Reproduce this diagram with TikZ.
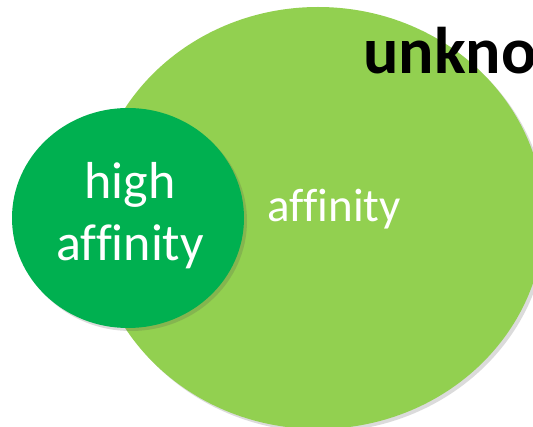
\documentclass[tikz,border=0pt]{standalone}
\usepackage{fontspec}
\setmainfont{Carlito}[Ligatures={NoCommon}]
\usetikzlibrary{shadows}
\definecolor{lightg}{HTML}{92D050}
\definecolor{darkg}{HTML}{00B050}
\tikzset{
  blob/.style={drop shadow={shadow xshift=3pt, shadow yshift=-3pt, opacity=0.2, fill=black!70}},
  wtext/.style={text=white, inner sep=0pt, anchor=base}
}
\begin{document}
\begin{tikzpicture}[x=1pt,y=-1pt]
\useasboundingbox (0,0) rectangle (533,427);
\clip (0,0) rectangle (533,427);
\fill[white] (0,0) rectangle (533,427);
\fill[lightg, blob] (318,218) ellipse [x radius=226pt, y radius=211pt];
\fill[darkg, blob] (128,218) ellipse [x radius=116pt, y radius=110pt];
\node[inner sep=0pt, anchor=base west, font=\fontsize{66}{66}\selectfont\bfseries] (unk) at (363,74) {unkno};
\node[wtext, font=\fontsize{52}{62}\selectfont] (high) at (130,199) {high};
\node[wtext, font=\fontsize{52}{62}\selectfont] (aff1) at (130,261) {affinity};
\node[wtext, anchor=base west, font=\fontsize{47}{56}\selectfont] (aff2) at (267,222) {affinity};
\end{tikzpicture}
\end{document}
